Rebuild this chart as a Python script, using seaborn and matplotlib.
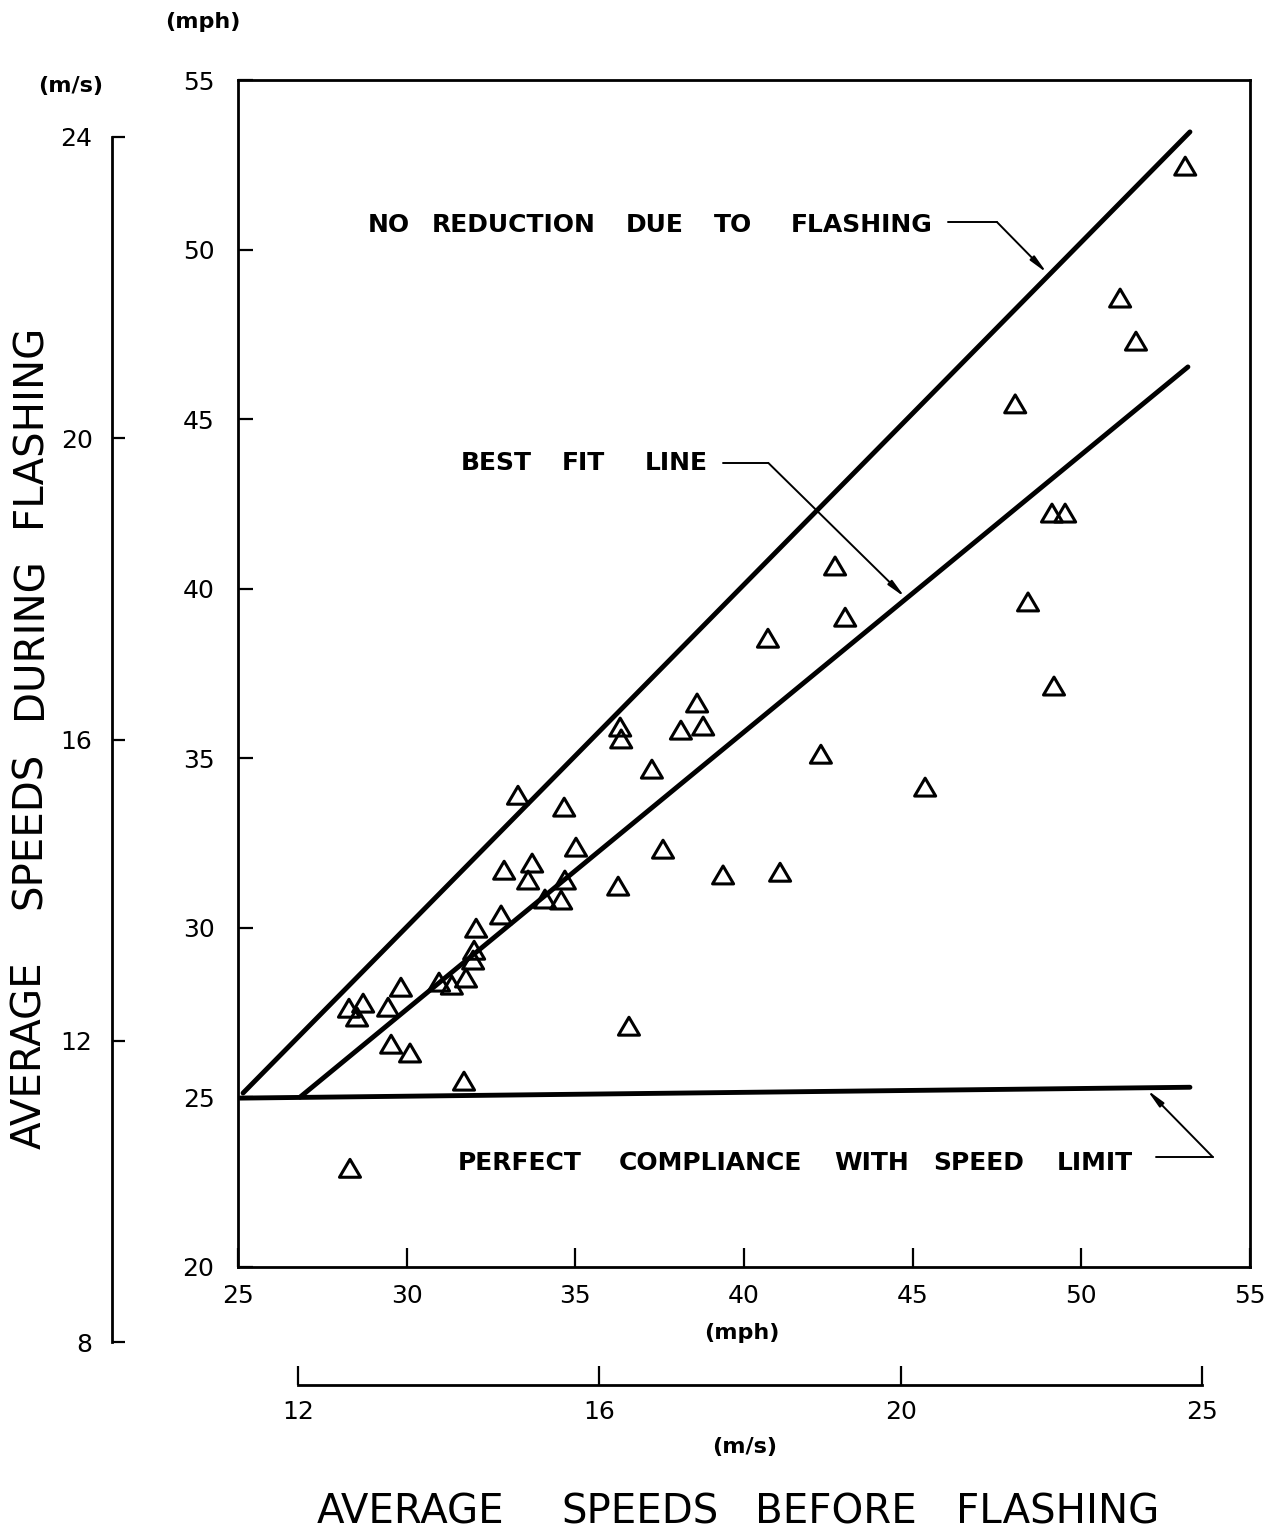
import matplotlib
matplotlib.use("Agg")
import matplotlib.pyplot as plt
from matplotlib.path import Path
import seaborn as sns

# average speeds at each site (mph)
before_mph = [53.08, 51.15, 51.62, 48.04, 49.13, 49.52, 48.42, 49.19,
              42.70, 43.00, 40.71, 42.28, 45.37, 41.07, 39.38, 38.61,
              38.79, 38.13, 36.33, 36.36, 37.27, 37.60, 36.27, 36.59,
              33.30, 34.67, 35.02, 34.69, 34.58, 34.10, 33.72, 33.60,
              32.89, 32.80, 32.06, 32.00, 31.97, 31.76, 30.96, 31.34,
              29.83, 29.45, 28.71, 28.29, 28.53, 29.54, 30.10, 31.70, 28.32]
during_mph = [52.46, 48.57, 47.30, 45.45, 42.23, 42.23, 39.61, 37.13,
              40.67, 39.16, 38.54, 35.12, 34.15, 31.64, 31.56, 36.63,
              35.95, 35.83, 35.92, 35.57, 34.68, 32.32, 31.23, 27.10,
              33.91, 33.56, 32.38, 31.41, 30.82, 30.85, 31.91, 31.41,
              31.70, 30.38, 29.99, 29.34, 29.05, 28.52, 28.40, 28.31,
              28.25, 27.66, 27.78, 27.63, 27.37, 26.57, 26.31, 25.48, 22.91]

# reference lines
no_reduction_x = [25.15, 53.22]
no_reduction_y = [25.13, 53.47]
best_fit_x = [26.84, 53.16]
best_fit_y = [25.01, 46.54]
compliance_x = [25.06, 53.22]
compliance_y = [24.98, 25.30]

# axes
mph_x_ticks = [25, 30, 35, 40, 45, 50, 55]
mph_y_ticks = [20, 25, 30, 35, 40, 45, 50, 55]
ms_y_ticks = [8, 12, 16, 20, 24]
ms_x_ticks = [12, 16, 20, 24]
ms_x_labels = ["12", "16", "20", "25"]

note_no_reduction = ["NO", "REDUCTION", "DUE", "TO", "FLASHING"]
note_best_fit = ["BEST", "FIT", "LINE"]
note_compliance = ["PERFECT", "COMPLIANCE", "WITH", "SPEED", "LIMIT"]
xlabel_words = ["AVERAGE", "SPEEDS", "BEFORE", "FLASHING"]
ylabel_words = ["AVERAGE", "SPEEDS", "DURING", "FLASHING"]

W, H = 1275, 1534
sns.set_theme(style="ticks")
plt.rcParams["font.family"] = ["DejaVu Sans"]
plt.rcParams["axes.linewidth"] = 2.0
plt.rcParams["xtick.direction"] = "in"
plt.rcParams["ytick.direction"] = "in"

fig = plt.figure(figsize=(W / 100, H / 100), dpi=100)
fig.patch.set_facecolor("white")


def px_rect(x0, y0, x1, y1):
    return [x0 / W, 1 - y1 / H, (x1 - x0) / W, (y1 - y0) / H]


def put(px, py, s, **kw):
    fig.text(px / W, 1 - py / H, s, ha="center", va="center", color="black", **kw)


ax = fig.add_axes(px_rect(238, 80, 1250, 1267))
ax.set_facecolor("white")

for xs, ys in [(no_reduction_x, no_reduction_y), (best_fit_x, best_fit_y),
               (compliance_x, compliance_y)]:
    sns.lineplot(x=xs, y=ys, ax=ax, color="black", lw=3.5,
                 estimator=None, sort=False)

tri = Path([(-1, -0.85), (1, -0.85), (0, 0.85), (-1, -0.85)],
           [Path.MOVETO, Path.LINETO, Path.LINETO, Path.CLOSEPOLY])
sns.scatterplot(x=before_mph, y=during_mph, ax=ax, marker=tri, s=230,
                linewidth=2.2, edgecolor="black", zorder=4)
ax.collections[-1].set_facecolor("none")
ax.collections[-1].set_edgecolor("black")

# leader lines
thin = dict(color="black", lw=1.4)
arrow = dict(arrowstyle="-|>,head_length=0.9,head_width=0.15",
             color="black", lw=1.4, shrinkA=0, shrinkB=0)
for start, knee, tip in [((46.05, 50.81), (47.50, 50.81), (48.98, 49.31)),
                         ((39.38, 43.71), (40.72, 43.71), (44.77, 39.75)),
                         ((52.20, 23.24), (53.90, 23.24), (51.95, 25.22))]:
    ax.plot([start[0], knee[0]], [start[1], knee[1]], **thin)
    ax.annotate("", xy=tip, xytext=knee, arrowprops=arrow)

ax.set_xlim(25, 55)
ax.set_ylim(20, 55)
ax.set_xticks(mph_x_ticks)
ax.set_yticks(mph_y_ticks)
ax.tick_params(axis="x", which="major", direction="in", length=14, width=1.6,
               bottom=True, top=False, labelsize=18, pad=12, colors="black")
ax.tick_params(axis="y", which="major", direction="in", length=11, width=1.6,
               left=True, right=False, labelsize=18, pad=17, colors="black")
for sp in ax.spines.values():
    sp.set_visible(True)
    sp.set_color("black")
    sp.set_linewidth(2.0)

# m/s scale on the left
ax2 = fig.add_axes(px_rect(112, 137, 140, 1342))
ax2.patch.set_visible(False)
for k in ["top", "right", "bottom"]:
    ax2.spines[k].set_visible(False)
ax2.spines["left"].set_linewidth(2.0)
ax2.spines["left"].set_color("black")
ax2.set_ylim(8, 24)
ax2.set_yticks(ms_y_ticks)
ax2.set_xticks([])
ax2.tick_params(axis="y", direction="in", length=9, width=1.6, left=True,
                labelsize=18, pad=14, colors="black")

# m/s scale at the bottom
ax3 = fig.add_axes(px_rect(298, 1355, 1202, 1385))
ax3.patch.set_visible(False)
for k in ["top", "right", "left"]:
    ax3.spines[k].set_visible(False)
ax3.spines["bottom"].set_linewidth(2.0)
ax3.spines["bottom"].set_color("black")
ax3.set_xlim(12, 24)
ax3.set_xticks(ms_x_ticks)
ax3.set_xticklabels(ms_x_labels)
ax3.set_yticks([])
ax3.tick_params(axis="x", direction="in", length=14, width=1.6, bottom=True,
                labelsize=18, pad=11, colors="black")

# notes inside the plot
note_kw = dict(fontsize=18, fontweight="bold")
for w, x in zip(note_no_reduction, [389, 514, 655, 733, 862]):
    put(x, 225, w, **note_kw)
for w, x in zip(note_best_fit, [496, 583, 676]):
    put(x, 463, w, **note_kw)
for w, x in zip(note_compliance, [520, 710, 872, 979, 1095]):
    put(x, 1163, w, **note_kw)

# unit labels
unit_kw = dict(fontsize=16, fontweight="bold")
put(203, 22, "(mph)", **unit_kw)
put(71, 86, "(m/s)", **unit_kw)
put(742, 1333, "(mph)", **unit_kw)
put(745, 1447, "(m/s)", **unit_kw)

# axis titles
title_kw = dict(fontsize=29)
for w, x in zip(xlabel_words, [411, 640, 836, 1058]):
    put(x, 1512, w, **title_kw)
for w, y in zip(ylabel_words, [1055, 830, 638, 425]):
    put(30, y, w, rotation=90, **title_kw)

fig.savefig("out.png", dpi=100, facecolor="white")
